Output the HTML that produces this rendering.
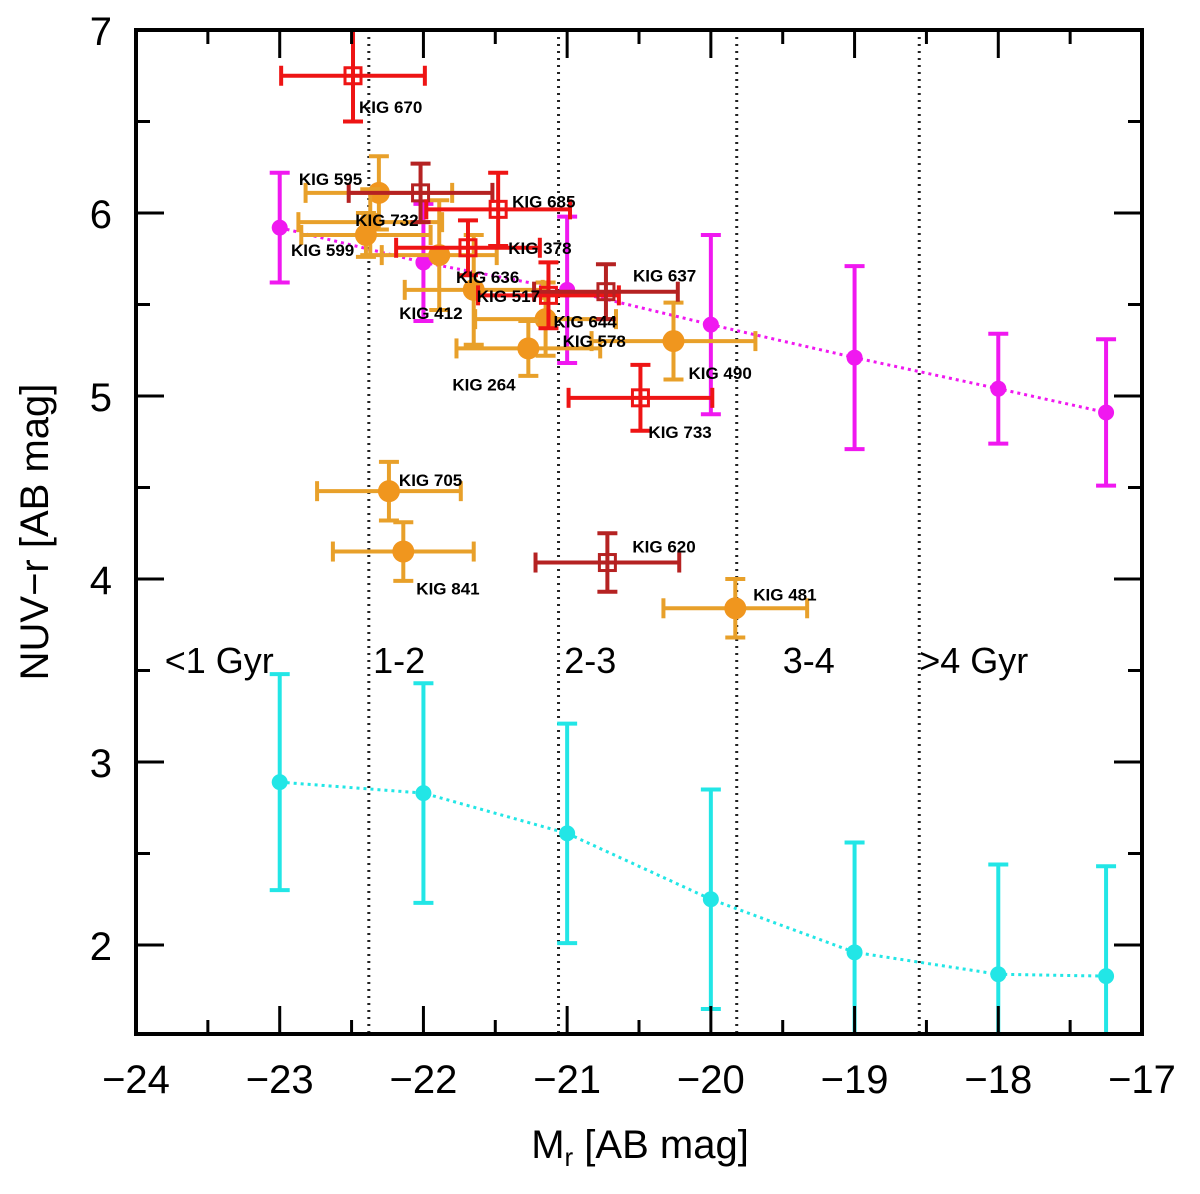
<!DOCTYPE html>
<html><head><meta charset="utf-8"><style>
body{margin:0;background:#fff;}
svg{display:block;font-family:"Liberation Sans",sans-serif;}
</style></head><body>
<svg id="chart" width="1200" height="1194" viewBox="0 0 1200 1194" xmlns="http://www.w3.org/2000/svg">
<defs><clipPath id="pc"><rect x="136" y="30" width="1006" height="1004"/></clipPath></defs>
<g id="grid"></g><g id="marks" clip-path="url(#pc)"></g><g id="axes"></g>
</svg>
<script>
// ---- data ----
const xTicks=[-24,-23,-22,-21,-20,-19,-18,-17];
const yTicks=[2,3,4,5,6,7];
const ageBoundaries=[-22.38,-21.06,-19.82,-18.55];
const ageLabels=["<1  Gyr","1-2","2-3","3-4",">4  Gyr"];
const ageLabelX=[-23.8,-22.35,-21.02,-19.5,-18.55];
const binX=[-23,-22,-21,-20,-19,-18,-17.25];
const magentaY=[5.92,5.73,5.58,5.39,5.21,5.04,4.91];
const magentaErr=[0.30,0.32,0.40,0.49,0.50,0.30,0.40];
const cyanY=[2.89,2.83,2.61,2.25,1.96,1.84,1.83];
const cyanErr=[0.59,0.60,0.60,0.60,0.60,0.60,0.60];
const orangeNames=["KIG 595","KIG 732","KIG 599","KIG 412","KIG 517","KIG 578","KIG 264","KIG 490","KIG 705","KIG 841","KIG 481"];
const orangeX=[-22.31,-22.37,-22.40,-21.89,-21.65,-21.15,-21.27,-20.26,-22.24,-22.14,-19.83];
const orangeY=[6.11,5.95,5.88,5.77,5.58,5.42,5.26,5.30,4.48,4.15,3.84];
const orangeXErr=[0.51,0.5,0.45,0.4,0.48,0.49,0.5,0.57,0.5,0.49,0.5];
const orangeYErr=[0.2,0.18,0.12,0.3,0.3,0.2,0.15,0.21,0.16,0.16,0.16];
const redNames=["KIG 670","","KIG 685","KIG 636","KIG 644","KIG 637","KIG 733","KIG 620"];
const redX=[-22.49,-22.02,-21.48,-21.69,-21.13,-20.73,-20.49,-20.72];
const redY=[6.75,6.11,6.02,5.81,5.55,5.57,4.99,4.09];
const redXErr=[0.5,0.5,0.5,0.5,0.49,0.5,0.5,0.5];
const redYErr=[0.25,0.16,0.2,0.15,0.18,0.15,0.18,0.16];
const redDark=[false,true,false,false,false,true,false,true];
const extraLabels=["KIG 378"];
const extraLabelX=[-21.41];
const extraLabelY=[5.81];

// ---- layout ----
const L=136,R=1142,T=30,B=1034;
const X0=-24,X1=-17,Y0=7-(B-T)/183,Y1=7;
const sx=v=>L+(v-X0)/(X1-X0)*(R-L);
const sy=v=>T+(Y1-v)/(Y1-Y0)*(B-T);
const NS="http://www.w3.org/2000/svg";
function mk(parent,tag,attrs){const e=document.createElementNS(NS,tag);for(const k in attrs)e.setAttribute(k,attrs[k]);parent.appendChild(e);return e;}
const grid=document.getElementById('grid'),marks=document.getElementById('marks'),axes=document.getElementById('axes');

ageBoundaries.forEach((b,i)=>{
  const l=mk(grid,'line',{x1:sx(b),x2:sx(b),y1:T,y2:B,stroke:'#222','stroke-width':3,'stroke-dasharray':'2,5'});
  
  
});
ageLabels.forEach((t,i)=>{
  const e=mk(grid,'text',{x:sx(ageLabelX[i]),y:673,'font-size':36,fill:'#000','xml:space':'preserve'});
  e.textContent=t;
  
  
});

function errbar(g,x,y,xe,ye,col,w,cap){
  if(ye>0){mk(g,'line',{x1:sx(x),x2:sx(x),y1:sy(y-ye),y2:sy(y+ye),stroke:col,'stroke-width':w});
    mk(g,'line',{x1:sx(x)-cap,x2:sx(x)+cap,y1:sy(y-ye),y2:sy(y-ye),stroke:col,'stroke-width':w});
    mk(g,'line',{x1:sx(x)-cap,x2:sx(x)+cap,y1:sy(y+ye),y2:sy(y+ye),stroke:col,'stroke-width':w});}
  if(xe>0){mk(g,'line',{x1:sx(x-xe),x2:sx(x+xe),y1:sy(y),y2:sy(y),stroke:col,'stroke-width':w});
    mk(g,'line',{x1:sx(x-xe),x2:sx(x-xe),y1:sy(y)-cap,y2:sy(y)+cap,stroke:col,'stroke-width':w});
    mk(g,'line',{x1:sx(x+xe),x2:sx(x+xe),y1:sy(y)-cap,y2:sy(y)+cap,stroke:col,'stroke-width':w});}
}

function binSeries(ys,errs,col,name){
  const pts=binX.map((x,i)=>sx(x)+','+sy(ys[i])).join(' ');
  const pl=mk(marks,'polyline',{points:pts,fill:'none',stroke:col,'stroke-width':3,'stroke-dasharray':'3,4'});
  
  
  ys.forEach((y,i)=>{
    const g=mk(marks,'g',{});
    
    
    errbar(g,binX[i],y,0,errs[i],col,4,10);
    mk(g,'circle',{cx:sx(binX[i]),cy:sy(y),r:8,fill:col});
  });
}
binSeries(cyanY,cyanErr,'#22e6e6','cyan-bin');
binSeries(magentaY,magentaErr,'#f018f0','magenta-bin');

const labOff={"KIG 595":[-80,-14],"KIG 732":[-15,-2],"KIG 599":[-75,15],"KIG 412":[-40,58],"KIG 517":[3,6],"KIG 578":[17,22],"KIG 264":[-76,36],"KIG 490":[15,32],"KIG 705":[10,-11],"KIG 841":[13,37],"KIG 481":[18,-14],
"KIG 670":[6,31],"KIG 685":[14,-8],"KIG 636":[-12,29],"KIG 644":[5,26],"KIG 637":[27,-16],"KIG 733":[8,34],"KIG 620":[25,-16]};
function label(x,y,t){
  const o=labOff[t]||[10,0];
  const e=mk(marks,'text',{x:x+o[0],y:y+o[1]+6,'font-size':17,'font-weight':'bold',fill:'#000'});
  e.textContent=t;
  
  
}
orangeX.forEach((x,i)=>{
  const g=mk(marks,'g',{});
  
  
  errbar(g,x,orangeY[i],orangeXErr[i],orangeYErr[i],'#e8a02a',4,10);
  mk(g,'circle',{cx:sx(x),cy:sy(orangeY[i]),r:11,fill:'#f0961e'});
});
redX.forEach((x,i)=>{
  const col=redDark[i]?'#b52222':'#ee1414';
  const g=mk(marks,'g',{});
  
  
  errbar(g,x,redY[i],redXErr[i],redYErr[i],col,4,10);
  const cx=sx(x),cy=sy(redY[i]);
  mk(g,'rect',{x:cx-8,y:cy-8,width:16,height:16,fill:'none',stroke:col,'stroke-width':3});
});
orangeNames.forEach((t,i)=>label(sx(orangeX[i]),sy(orangeY[i]),t));
redNames.forEach((t,i)=>{if(t)label(sx(redX[i]),sy(redY[i]),t);});
extraLabels.forEach((t,i)=>{
  const e=mk(marks,'text',{x:sx(extraLabelX[i]),y:sy(extraLabelY[i])+6,'font-size':17,'font-weight':'bold',fill:'#000'});
  e.textContent=t;
  
  
});

// axes frame & ticks
const fr=mk(axes,'rect',{x:L,y:T,width:R-L,height:B-T,fill:'none',stroke:'#000','stroke-width':4});


for(let v=-24;v<=-17.001;v+=0.5){
  const maj=Math.abs(v-Math.round(v))<1e-6, len=maj?28:14, x=sx(v);
  mk(axes,'line',{x1:x,x2:x,y1:B,y2:B-len,stroke:'#000','stroke-width':3});
  mk(axes,'line',{x1:x,x2:x,y1:T,y2:T+len,stroke:'#000','stroke-width':3});
}
for(let v=2;v<=7;v+=0.5){
  const maj=Math.abs(v-Math.round(v))<1e-6, len=maj?28:14, y=sy(v);
  mk(axes,'line',{x1:L,x2:L+len,y1:y,y2:y,stroke:'#000','stroke-width':3});
  mk(axes,'line',{x1:R,x2:R-len,y1:y,y2:y,stroke:'#000','stroke-width':3});
}
xTicks.forEach(v=>{
  const e=mk(axes,'text',{x:sx(v),y:1093,'font-size':40,'text-anchor':'middle',fill:'#000'});
  e.textContent='\u2212'+Math.abs(v);
  
  
});
yTicks.forEach(v=>{
  const e=mk(axes,'text',{x:112,y:sy(v)+15,'font-size':40,'text-anchor':'end',fill:'#000'});
  e.textContent=v;
  
  
});
const xt=mk(axes,'text',{x:640,y:1158,'font-size':40,'text-anchor':'middle',fill:'#000'});
xt.innerHTML='M<tspan font-size="26" dy="8">r</tspan><tspan dy="-8"> [AB mag]</tspan>';


const yt=mk(axes,'text',{x:0,y:0,'font-size':40,'text-anchor':'middle',fill:'#000',transform:'translate(48,532) rotate(-90)'});
yt.textContent='NUV\u2212r  [AB mag]';


</script>
</body></html>
